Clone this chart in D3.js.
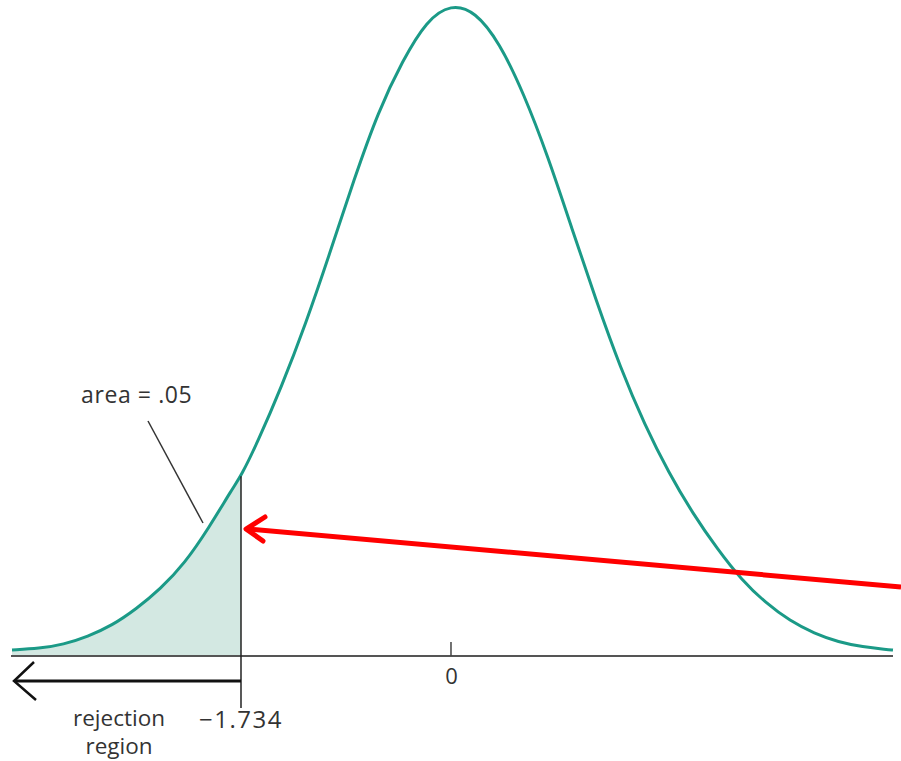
<!DOCTYPE html>
<html>
<head>
<meta charset="utf-8">
<script src="https://cdn.jsdelivr.net/npm/d3@7"></script>
<style>
  body { margin: 0; background: #fff; }
  text { font-family: "Open Sans", sans-serif; fill: #333; }
</style>
</head>
<body>
<script>
// t values
var tVals = [-3.625, -3.4, -3.2, -3.0, -2.8, -2.6, -2.4, -2.2, -2.0, -1.8, -1.734,
    -1.6, -1.4, -1.2, -1.0, -0.8, -0.6, -0.4, -0.2, 0,
    0.2, 0.4, 0.6, 0.8, 1.0, 1.2, 1.4, 1.6, 1.8, 2.0,
    2.2, 2.4, 2.6, 2.8, 3.0, 3.2, 3.4, 3.6, 3.65];
// density at those t values
var density = [0.0037, 0.0046, 0.0071, 0.0120, 0.0188, 0.0290, 0.0413, 0.0571, 0.0790, 0.1040, 0.1110,
    0.1315, 0.1660, 0.2049, 0.2487, 0.2944, 0.3363, 0.3675, 0.3925, 0.4025,
    0.3980, 0.3787, 0.3474, 0.3086, 0.2635, 0.2191, 0.1777, 0.1426, 0.1129, 0.0876,
    0.0660, 0.0469, 0.0327, 0.0216, 0.0139, 0.0086, 0.0056, 0.0040, 0.0037];

var critical = -1.734;
var alpha = ".05";
var tickVals = [0];
var tickLabels = ["0"];
var regionLabel = ["rejection", "region"];

var width = 901, height = 761;

var x = d3.scaleLinear().domain([-3.625, 3.65]).range([12, 893]);
var y = d3.scaleLinear().domain([0, 0.40]).range([656, 8]);

var pts = tVals.map(function(t, i){ return {t: t, d: density[i]}; });
var tail = pts.filter(function(p){ return p.t <= critical; });
var critY = y(density[tVals.indexOf(critical)]);

var svg = d3.select("body").append("svg")
    .attr("width", width)
    .attr("height", height);

// shaded rejection area
var area = d3.area()
    .x(function(p){ return x(p.t); })
    .y0(y(0))
    .y1(function(p){ return y(p.d); })
    .curve(d3.curveBasis);

svg.append("path")
    .datum(tail)
    .attr("d", area)
    .attr("fill", "#d3e8e2");

// baseline axis
var axis = d3.axisBottom(x)
    .tickValues(tickVals)
    .tickFormat(function(d, i){ return tickLabels[i]; })
    .tickSize(0)
    .tickPadding(12);

var gx = svg.append("g")
    .attr("transform", "translate(0," + y(0) + ")")
    .call(axis);
gx.select(".domain").remove();
gx.selectAll("text")
    .attr("font-size", 22)
    .attr("font-family", "Open Sans, sans-serif")
    .attr("fill", "#333");

svg.append("line")
    .attr("x1", 11).attr("x2", 893)
    .attr("y1", y(0)).attr("y2", y(0))
    .attr("stroke", "#555").attr("stroke-width", 2);

tickVals.forEach(function(v){
    svg.append("line")
        .attr("x1", x(v)).attr("x2", x(v))
        .attr("y1", y(0) - 14).attr("y2", y(0))
        .attr("stroke", "#444").attr("stroke-width", 1.5);
});

// the curve
var line = d3.line()
    .x(function(p){ return x(p.t); })
    .y(function(p){ return y(p.d); })
    .curve(d3.curveBasis);

svg.append("path")
    .datum(pts)
    .attr("d", line)
    .attr("fill", "none")
    .attr("stroke", "#1b9a87")
    .attr("stroke-width", 3);

// critical value line
svg.append("line")
    .attr("x1", x(critical)).attr("x2", x(critical))
    .attr("y1", critY).attr("y2", 708)
    .attr("stroke", "#222").attr("stroke-width", 1.5);

svg.append("text")
    .attr("x", x(critical)).attr("y", 728)
    .attr("text-anchor", "middle")
    .attr("font-size", 24)
    .attr("letter-spacing", 1.5)
    .text("\u22121.734");

// rejection region arrow
svg.append("line")
    .attr("x1", x(critical)).attr("x2", 15)
    .attr("y1", 681).attr("y2", 681)
    .attr("stroke", "#111").attr("stroke-width", 3);
svg.append("path")
    .attr("d", "M34,662 L14,681 L36,700")
    .attr("fill", "none")
    .attr("stroke", "#111").attr("stroke-width", 2.5);

svg.selectAll("text.region")
    .data(regionLabel)
    .enter().append("text")
    .attr("class", "region")
    .attr("x", 119)
    .attr("y", function(d, i){ return 726 + i * 28; })
    .attr("text-anchor", "middle")
    .attr("font-size", 22.5)
    .text(function(d){ return d; });

// area label + leader
svg.append("text")
    .attr("x", 81).attr("y", 403)
    .attr("font-size", 23)
    .attr("letter-spacing", 0.6)
    .text("area = " + alpha);

svg.append("line")
    .attr("x1", 148).attr("y1", 421)
    .attr("x2", 203).attr("y2", 523)
    .attr("stroke", "#333").attr("stroke-width", 1.5);

// red pointer arrow
svg.append("line")
    .attr("x1", 901).attr("y1", 587)
    .attr("x2", 248).attr("y2", 529)
    .attr("stroke", "#ff0000").attr("stroke-width", 5);
svg.append("path")
    .attr("d", "M265,517 L246,529 L263,541")
    .attr("fill", "none")
    .attr("stroke", "#ff0000").attr("stroke-width", 5)
    .attr("stroke-linecap", "round")
    .attr("stroke-linejoin", "round");
</script>
</body>
</html>
